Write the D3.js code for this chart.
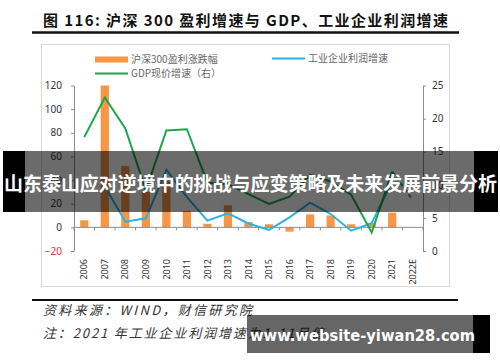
<!DOCTYPE html>
<meta charset="utf-8">
<script src="https://cdn.jsdelivr.net/npm/d3@7/dist/d3.min.js"></script>
<body style="margin:0;background:#fff;">
<svg width="500" height="362" id="chart"></svg>
<script>

// values
var years = ["2006", "2007", "2008", "2009", "2010", "2011", "2012", "2013", "2014",
             "2015", "2016", "2017", "2018", "2019", "2020", "2021", "2022E"];
var csi300Profit = [6, 120, 52, 30, 39, 14, 3, 18.7, 4.5, 2.6, -3.6, 11, 10, 2.6, 3.5, 12.4, null];
var industryProfit = [null, 34.8, 4.8, 7.7, 48.8, 25.5, 5.7, 11.9, 3.3, -2.2, 8.5, 20.9, 11.3, -2.8, 3.5, 39, null];
var gdpNominal = [17.2, 23.2, 18.5, 9.2, 18.2, 18.4, 10.3, 10.1, 8.6, 7.1, 8.2, 11.5, 10.5, 8.5, 2.8, 12, null];
var gdpForecast = [null, null, null, null, null, null, null, null, null, null, null, null, null, null, null, 12, 7.7];
var leftTicks = [-20, 0, 20, 40, 60, 80, 100, 120];
var rightTicks = [0, 5, 10, 15, 20, 25];

var orange = "#f79646", blue = "#2bb3e3", green = "#1ea64c";
var cjk = "'Noto Sans CJK SC', sans-serif";

var svg = d3.select("#chart");

// title
svg.append("text")
    .attr("x", 43).attr("y", 26)
    .attr("font-family", cjk).attr("font-weight", "bold").attr("font-size", 15)
    .attr("fill", "#111")
    .attr("textLength", 405).attr("lengthAdjust", "spacing")
    .text("图 116: 沪深 300 盈利增速与 GDP、工业企业利润增速");
svg.append("line").attr("x1", 32).attr("x2", 459).attr("y1", 32.5).attr("y2", 32.5)
    .attr("stroke", "#111").attr("stroke-width", 2.5);

// frame
svg.append("rect").attr("x", 41.5).attr("y", 44.5).attr("width", 408).attr("height", 242)
    .attr("fill", "none").attr("stroke", "#d9d9d9");

var x = d3.scaleBand().domain(years).range([74, 423]).paddingInner(0.6).paddingOuter(0.3);
var yL = d3.scaleLinear().domain([-20, 120]).range([251, 85.5]);
var yR = d3.scaleLinear().domain([0, 25]).range([251, 85.5]);
var cx = function(y) { return x(y) + x.bandwidth() / 2; };

// bars
svg.append("g").selectAll("rect")
    .data(years.map(function(y, i) { return {year: y, v: csi300Profit[i]}; }).filter(function(d) { return d.v != null; }))
  .enter().append("rect")
    .attr("x", function(d) { return x(d.year); })
    .attr("width", x.bandwidth())
    .attr("y", function(d) { return yL(Math.max(0, d.v)); })
    .attr("height", function(d) { return Math.abs(yL(d.v) - yL(0)); })
    .attr("fill", orange);

// x axis line + ticks between categories
var gx = svg.append("g");
gx.append("line").attr("x1", 74).attr("x2", 423).attr("y1", yL(0)).attr("y2", yL(0))
    .attr("stroke", "#8c8c8c");
var bounds = years.map(function(y) { return x(y) - (x.step() - x.bandwidth()) / 2; });
bounds.push(423);
gx.selectAll(".tk").data(bounds).enter().append("line")
    .attr("x1", function(d) { return d; }).attr("x2", function(d) { return d; })
    .attr("y1", yL(0)).attr("y2", yL(0) + 3)
    .attr("stroke", "#8c8c8c");
gx.selectAll(".yr").data(years).enter().append("text")
    .attr("transform", function(d) { return "translate(" + cx(d) + ",259) rotate(-90)"; })
    .attr("dy", "0.35em")
    .attr("text-anchor", "end")
    .attr("font-family", "'Noto Sans', sans-serif").attr("font-size", 9)
    .attr("fill", "#333")
    .text(function(d) { return d; });

// left axis
var gl = svg.append("g").attr("transform", "translate(74,0)")
    .call(d3.axisLeft(yL).tickValues(leftTicks).tickSize(3).tickSizeOuter(0).tickPadding(9));
gl.select(".domain").attr("stroke", "#8c8c8c");
gl.selectAll(".tick line").attr("stroke", "#8c8c8c");
gl.selectAll(".tick text")
    .attr("font-family", "'Noto Sans', sans-serif").attr("font-size", 10)
    .attr("fill", function(d) { return d < 0 ? "#e0303b" : "#333"; });

// right axis
var gr = svg.append("g").attr("transform", "translate(423,0)")
    .call(d3.axisRight(yR).tickValues(rightTicks).tickSize(3).tickSizeOuter(0).tickPadding(6));
gr.select(".domain").attr("stroke", "#8c8c8c");
gr.selectAll(".tick line").attr("stroke", "#8c8c8c");
gr.selectAll(".tick text")
    .attr("font-family", "'Noto Sans', sans-serif").attr("font-size", 10)
    .attr("fill", "#333");

// lines
var lineL = d3.line()
    .defined(function(d) { return d.v != null; })
    .x(function(d) { return cx(d.year); })
    .y(function(d) { return yL(d.v); });
var lineR = d3.line()
    .defined(function(d) { return d.v != null; })
    .x(function(d) { return cx(d.year); })
    .y(function(d) { return yR(d.v); });
var pair = function(arr) { return years.map(function(y, i) { return {year: y, v: arr[i]}; }); };

svg.append("path").datum(pair(industryProfit))
    .attr("fill", "none").attr("stroke", blue).attr("stroke-width", 2)
    .attr("d", lineL);
svg.append("path").datum(pair(gdpNominal))
    .attr("fill", "none").attr("stroke", green).attr("stroke-width", 2)
    .attr("d", lineR);
svg.append("path").datum(pair(gdpForecast))
    .attr("fill", "none").attr("stroke", green).attr("stroke-width", 2)
    .attr("stroke-dasharray", "4,3")
    .attr("d", lineR);

// legend
var lg = svg.append("g").attr("font-family", cjk).attr("font-size", 10).attr("fill", "#666");
lg.append("rect").attr("x", 95).attr("y", 56.5).attr("width", 33).attr("height", 6).attr("fill", orange);
lg.append("text").attr("x", 131).attr("y", 59.5).attr("dy", "0.35em").text("沪深300盈利涨跌幅");
lg.append("line").attr("x1", 95).attr("x2", 128).attr("y1", 73.5).attr("y2", 73.5)
    .attr("stroke", green).attr("stroke-width", 2);
lg.append("text").attr("x", 131).attr("y", 73.5).attr("dy", "0.35em").text("GDP现价增速（右）");
lg.append("line").attr("x1", 272).attr("x2", 305).attr("y1", 58.5).attr("y2", 58.5)
    .attr("stroke", blue).attr("stroke-width", 2);
lg.append("text").attr("x", 308).attr("y", 58.5).attr("dy", "0.35em").text("工业企业利润增速");

// bottom rule and notes
svg.append("line").attr("x1", 32).attr("x2", 458).attr("y1", 300).attr("y2", 300)
    .attr("stroke", "#111").attr("stroke-width", 2);
svg.append("text").attr("x", 43).attr("y", 315)
    .attr("font-family", cjk).attr("font-size", 13).attr("font-style", "italic").attr("fill", "#333")
    .attr("textLength", 209).attr("lengthAdjust", "spacing")
    .text("资料来源：WIND，财信研究院");
svg.append("text").attr("x", 43).attr("y", 338)
    .attr("font-family", cjk).attr("font-size", 13).attr("font-style", "italic").attr("fill", "#333")
    .attr("textLength", 281).attr("lengthAdjust", "spacing")
    .text("注：2021 年工业企业利润增速为1-11月值");

// watermark banners over the picture
svg.append("rect").attr("x", 25).attr("y", 151).attr("width", 449).attr("height", 61)
    .attr("fill", "#000").attr("opacity", 0.58);
svg.append("rect").attr("x", 3).attr("y", 151).attr("width", 22).attr("height", 61).attr("fill", "#000");
svg.append("rect").attr("x", 474).attr("y", 151).attr("width", 24).attr("height", 61).attr("fill", "#000");
svg.append("text").attr("x", 4).attr("y", 191)
    .attr("font-family", cjk).attr("font-weight", "bold").attr("font-size", 19).attr("fill", "#fff")
    .attr("textLength", 493).attr("lengthAdjust", "spacingAndGlyphs")
    .text("山东泰山应对逆境中的挑战与应变策略及未来发展前景分析");

svg.append("rect").attr("x", 247).attr("y", 315).attr("width", 226).attr("height", 38)
    .attr("fill", "#000").attr("opacity", 0.6);
svg.append("rect").attr("x", 473).attr("y", 315).attr("width", 17).attr("height", 38).attr("fill", "#000");
svg.append("text").attr("x", 250).attr("y", 341)
    .attr("font-family", "'DejaVu Sans', sans-serif").attr("font-weight", "bold").attr("font-size", 15)
    .attr("fill", "#fff")
    .attr("textLength", 225).attr("lengthAdjust", "spacingAndGlyphs")
    .text("www.website-yiwan28.com");

</script>
</body>
